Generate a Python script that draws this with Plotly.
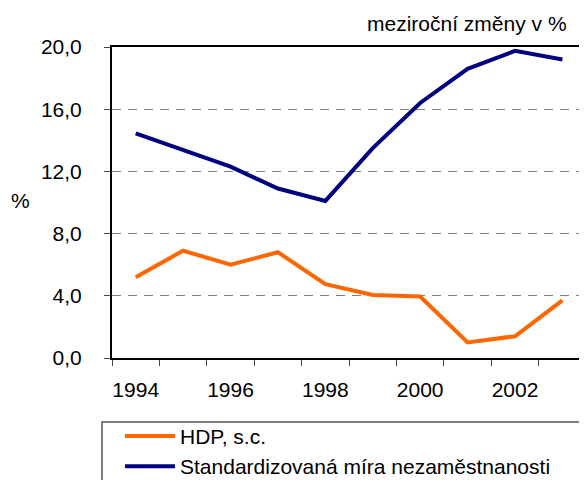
import plotly.graph_objects as go

years = [1994, 1995, 1996, 1997, 1998, 1999, 2000, 2001, 2002, 2003]
hdp = [5.2, 6.9, 6.0, 6.8, 4.75, 4.05, 3.95, 1.0, 1.4, 3.7]
nezam = [14.45, 13.35, 12.3, 10.9, 10.1, 13.5, 16.4, 18.6, 19.75, 19.2]
year_labels = [1994, 1996, 1998, 2000, 2002]
y_ticks = [0, 4, 8, 12, 16, 20]

FONT = "Liberation Sans, Arial, sans-serif"

fig = go.Figure()
fig.add_trace(go.Scatter(
    x=years, y=hdp, mode="lines", name="HDP, s.c.",
    line=dict(color="#FF6600", width=4),
))
fig.add_trace(go.Scatter(
    x=years, y=nezam, mode="lines", name="Standardizovaná míra nezaměstnanosti",
    line=dict(color="#000080", width=4),
))

# the page body adds 8px around the plot, so the figure is made 16px
# smaller to fit the window without scrolling
fig.update_layout(
    width=571, height=472,
    margin=dict(l=104, r=0, t=39, b=122, autoexpand=False),
    paper_bgcolor="white", plot_bgcolor="white",
    font=dict(family=FONT, size=21, color="black"),
    separators=",.",
    showlegend=True,
    legend=dict(
        x=-0.0214, y=-0.186, xanchor="left", yanchor="top",
        borderwidth=0, bgcolor="rgba(0,0,0,0)",
        font=dict(size=21), indentation=18,
        itemwidth=50,
    ),
)

# legend frame runs past the right edge, as in the original
fig.add_shape(
    type="rect", xref="paper", yref="paper",
    x0=-0.0214, x1=1.2, y0=-0.2058, y1=-0.6,
    line=dict(color="#808080", width=2),
)

fig.update_xaxes(
    range=[1993.5, 2003.35],
    tickmode="array", tickvals=year_labels,
    ticks="outside", ticklen=0, ticklabelstandoff=12,
    showgrid=False, zeroline=False,
    showline=True, linecolor="black", linewidth=2, mirror=True,
    minor=dict(tickmode="linear", tick0=1993.5, dtick=1,
               ticks="outside", ticklen=6, tickcolor="#444", tickwidth=1,
               showgrid=False),
    tickfont=dict(size=21),
)
fig.update_yaxes(
    range=[0, 20], tickmode="array", tickvals=y_ticks, tickformat=".1f",
    ticks="outside", ticklen=6, tickcolor="#444",
    ticklabelstandoff=18,
    showgrid=True, gridcolor="#808080", gridwidth=1, griddash="9px,7px",
    zeroline=False,
    showline=True, linecolor="black", linewidth=2, mirror=True,
    tickfont=dict(size=21),
)

fig.add_annotation(
    text="meziroční změny v %", xref="paper", yref="paper",
    x=0.9786, y=1.077, xanchor="right", yanchor="middle",
    showarrow=False, font=dict(size=21),
)
fig.add_annotation(
    text="%", xref="paper", yref="paper",
    x=-0.197, y=0.508, xanchor="center", yanchor="middle",
    showarrow=False, font=dict(size=21),
)

fig.write_html("out.html")
